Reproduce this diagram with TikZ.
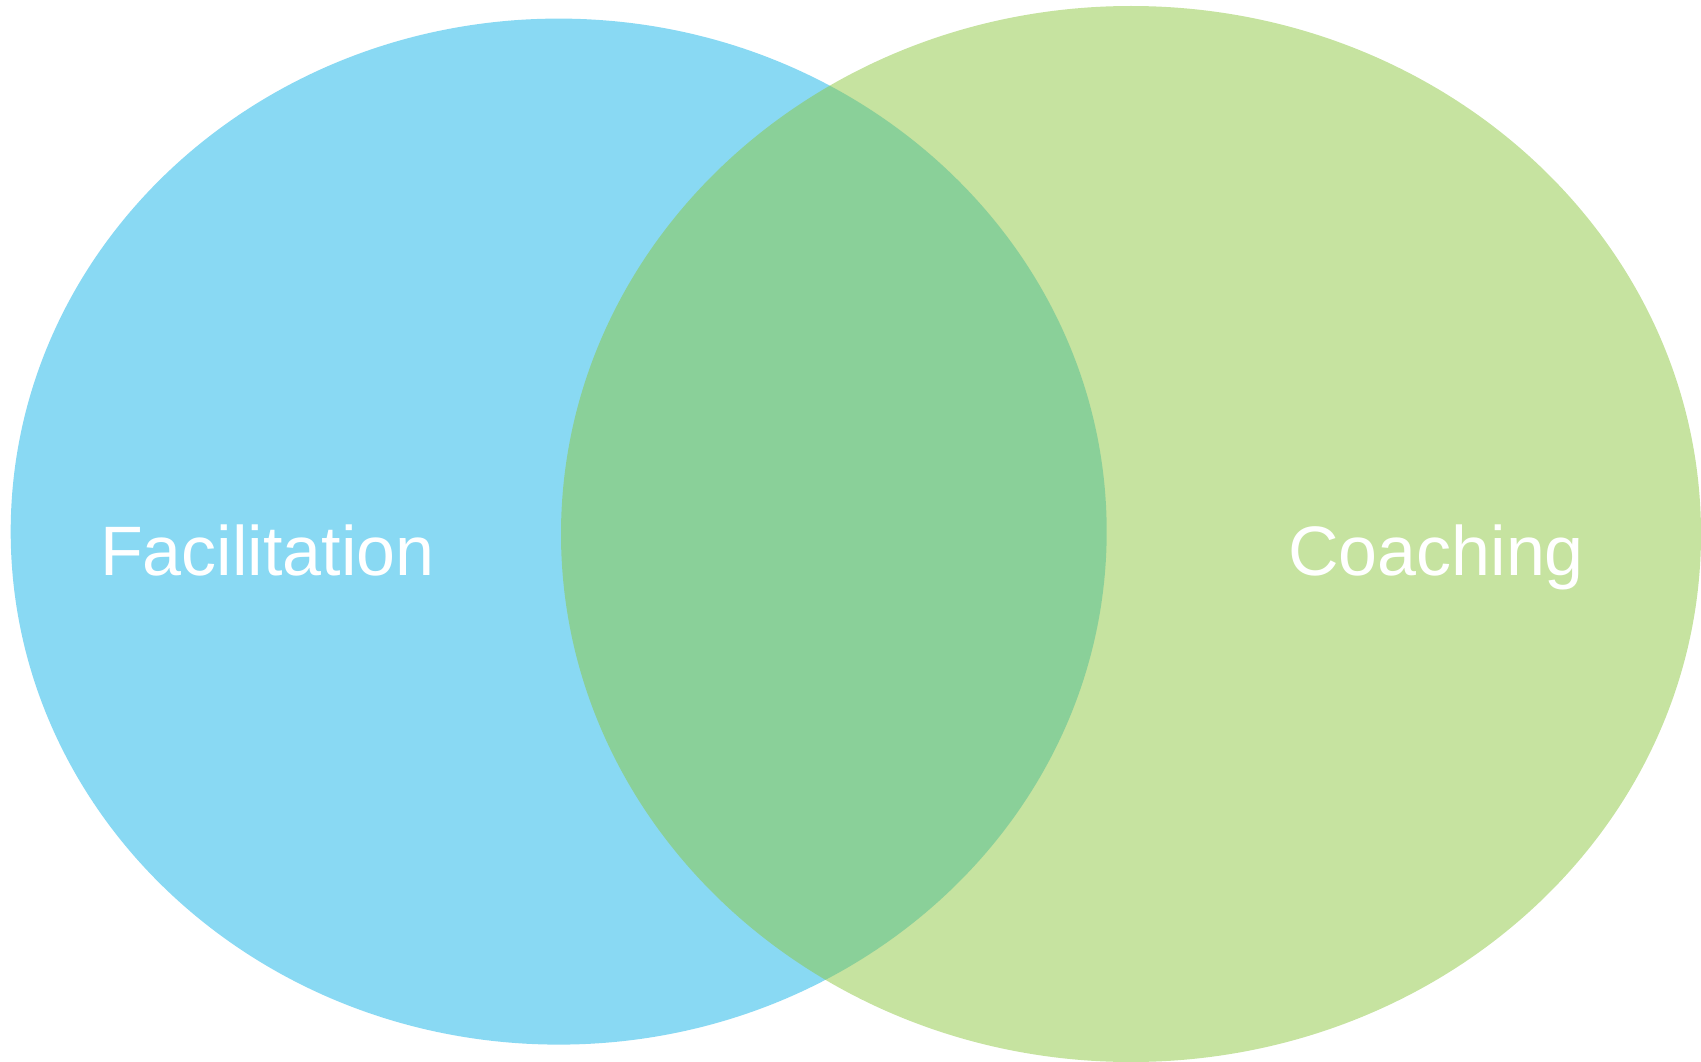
\documentclass[tikz,border=0pt]{standalone}
\usepackage{fontspec}
\setmainfont{Liberation Sans}
\usetikzlibrary{shapes.geometric}
\definecolor{facblue}{RGB}{20,179,231}
\definecolor{coagreen}{RGB}{141,199,65}
\tikzstyle{blob}=[ellipse, draw=none, fill opacity=0.5, inner sep=0pt]
\tikzstyle{setname}=[text=white, font=\fontsize{70}{84}\selectfont, inner sep=0pt, anchor=base west]

\begin{document}
\begin{tikzpicture}[x=1pt, y=-1pt]
	\useasboundingbox (0, 0) rectangle (1701, 1062);
	\node [style=blob, fill=facblue, minimum width=1096pt, minimum height=1026pt] (fac) at (558.7, 531.6) {};
	\node [style=blob, fill=coagreen, minimum width=1140pt, minimum height=1056pt] (coa) at (1131, 534) {};
	\node [style=setname] (facname) at (100, 575) {Facilitation};
	\node [style=setname] (coaname) at (1288, 575) {Coaching};
\end{tikzpicture}
\end{document}
